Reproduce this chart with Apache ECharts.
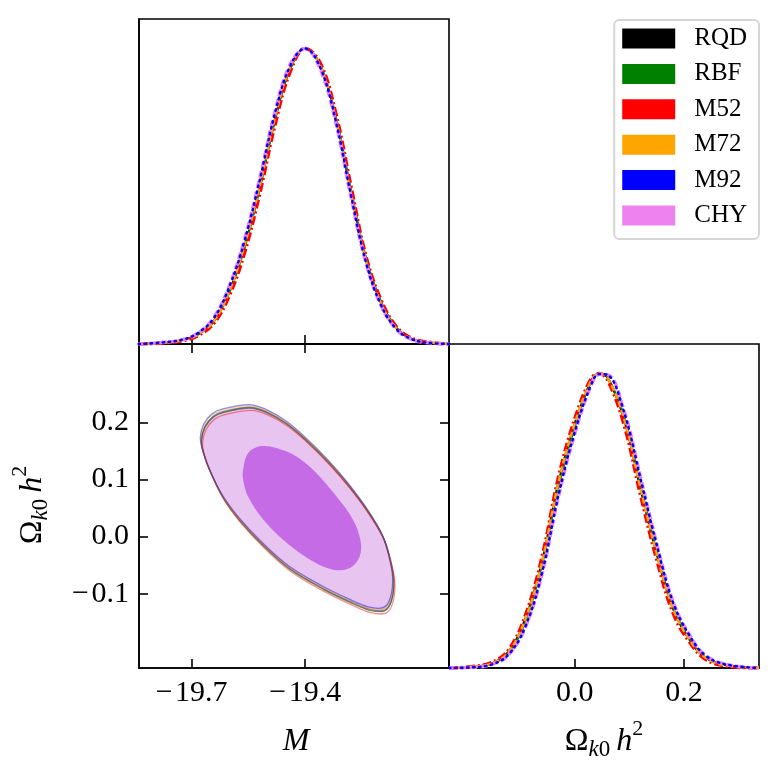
<!DOCTYPE html>
<html>
<head>
<meta charset="utf-8">
<script src="https://cdn.jsdelivr.net/npm/echarts@6/dist/echarts.min.js"></script>
<style>
html, body { margin: 0; padding: 0; background: #fff; }
#main { width: 779px; height: 779px; }
</style>
</head>
<body>
<div id="main"></div>
<script>
// models and colours
var models = ['RQD', 'RBF', 'M52', 'M72', 'M92', 'CHY'];
var colors = ['#000000', '#008000', '#ff0000', '#ffa500', '#0000ff', '#ee82ee'];

// 1D posterior of M (normalised to peak 1)
var mGrid = [-19.84, -19.78, -19.72, -19.68, -19.64, -19.60, -19.56, -19.52, -19.48, -19.44, -19.40,
             -19.36, -19.32, -19.28, -19.24, -19.20, -19.16, -19.12, -19.08, -19.02];
var mRQD = [0, 0.004, 0.014, 0.035, 0.080, 0.180, 0.330, 0.530, 0.760, 0.930, 1.0, 0.940, 0.770, 0.520, 0.290, 0.140, 0.055, 0.018, 0.006, 0];
var mRBF = [0, 0.004, 0.014, 0.034, 0.078, 0.175, 0.325, 0.525, 0.755, 0.930, 1.0, 0.945, 0.775, 0.530, 0.295, 0.145, 0.057, 0.019, 0.006, 0];
var mM52 = [0, 0.003, 0.012, 0.031, 0.072, 0.165, 0.310, 0.510, 0.740, 0.920, 1.0, 0.950, 0.785, 0.540, 0.300, 0.150, 0.060, 0.020, 0.007, 0];
var mM72 = [0, 0.004, 0.014, 0.035, 0.080, 0.180, 0.335, 0.535, 0.765, 0.935, 1.0, 0.940, 0.765, 0.515, 0.285, 0.138, 0.054, 0.018, 0.006, 0];
var mM92 = [0, 0.005, 0.016, 0.040, 0.090, 0.195, 0.350, 0.555, 0.780, 0.940, 1.0, 0.935, 0.760, 0.510, 0.280, 0.133, 0.052, 0.017, 0.005, 0];
var mCHY = [0, 0.005, 0.016, 0.040, 0.092, 0.198, 0.355, 0.560, 0.785, 0.945, 1.0, 0.930, 0.755, 0.505, 0.278, 0.132, 0.051, 0.016, 0.005, 0];

// 1D posterior of Omega_k0 h^2
var wGrid = [-0.23, -0.19, -0.15, -0.12, -0.09, -0.06, -0.03, 0.0, 0.03, 0.045, 0.06,
             0.09, 0.12, 0.15, 0.18, 0.21, 0.24, 0.28, 0.337];
var wRQD = [0, 0.003, 0.017, 0.058, 0.170, 0.360, 0.630, 0.830, 0.975, 1.0, 0.985, 0.845, 0.610, 0.385, 0.200, 0.095, 0.034, 0.008, 0];
var wRBF = [0, 0.002, 0.015, 0.054, 0.160, 0.348, 0.612, 0.818, 0.972, 1.0, 0.988, 0.855, 0.622, 0.395, 0.206, 0.098, 0.035, 0.009, 0];
var wM52 = [0, 0.004, 0.020, 0.064, 0.180, 0.375, 0.645, 0.845, 0.982, 1.0, 0.978, 0.828, 0.590, 0.368, 0.186, 0.088, 0.029, 0.006, 0];
var wM72 = [0, 0.003, 0.017, 0.057, 0.168, 0.358, 0.628, 0.830, 0.975, 1.0, 0.985, 0.848, 0.612, 0.387, 0.201, 0.096, 0.034, 0.008, 0];
var wM92 = [0, 0.002, 0.013, 0.048, 0.142, 0.322, 0.585, 0.800, 0.962, 0.998, 0.995, 0.870, 0.645, 0.418, 0.222, 0.110, 0.041, 0.011, 0];
var wCHY = [0, 0.002, 0.013, 0.047, 0.140, 0.318, 0.580, 0.795, 0.960, 0.997, 0.996, 0.874, 0.650, 0.422, 0.225, 0.112, 0.042, 0.011, 0];

var mDens = [mRQD, mRBF, mM52, mM72, mM92, mCHY];
var wDens = [wRQD, wRBF, wM52, wM72, wM92, wCHY];

// 2D contours (M, Omega_k0 h^2)
var outerM = [-19.674, -19.665, -19.643, -19.617, -19.546, -19.502, -19.449, -19.397, -19.335, -19.282, -19.230, -19.194,
              -19.177, -19.166, -19.172, -19.190, -19.230, -19.282, -19.353, -19.441, -19.511, -19.573, -19.617, -19.652, -19.669];
var outerW = [0.170, 0.193, 0.211, 0.219, 0.227, 0.219, 0.199, 0.170, 0.129, 0.088, 0.041, 0.000,
              -0.035, -0.075, -0.111, -0.128, -0.127, -0.113, -0.090, -0.055, -0.014, 0.030, 0.070, 0.117, 0.149];
var innerM = [-19.564, -19.551, -19.520, -19.476, -19.423, -19.370, -19.317, -19.274, -19.254, -19.256, -19.282,
              -19.326, -19.388, -19.449, -19.511, -19.551, -19.564];
var innerW = [0.117, 0.146, 0.158, 0.155, 0.140, 0.111, 0.070, 0.030, -0.006, -0.035, -0.055,
              -0.058, -0.040, -0.011, 0.030, 0.070, 0.100];
// small offsets of each model's outer contour against CHY
var shiftM = [0.000, 0.000, 0.003, -0.002, -0.003, 0];
var shiftW = [-0.002, -0.001, -0.006, 0.002, 0.004, 0];

var mTicks = [-19.7, -19.4];
var wTicks = [-0.1, 0.0, 0.1, 0.2];
var wTicksDiag = [0.0, 0.2];
var mRange = [-19.839, -19.02];
var wRange = [-0.23, 0.337];

var FONT = '"Liberation Serif", "DejaVu Serif", serif';
var lineStyles = [
    { width: 2, type: 'solid' },
    { width: 2, type: 'solid' },
    { width: 3.5, type: [9, 3, 2, 3] },
    { width: 2.5, type: [6, 3] },
    { width: 2.5, type: [1.5, 4.5], cap: 'round' },
    { width: 3.5, type: [7, 3.5] }
];
var zOrder = [3, 4, 5, 6, 8, 7];

function fmt(v) {
    return (v < -1e-9 ? '\u2212\u200a' : '') + Math.abs(v).toFixed(1);
}

function axis(grid, range, pos, ticks, labels) {
    return {
        type: 'value', gridIndex: grid, position: pos, min: range[0], max: range[1],
        axisLine: { show: true, onZero: false, lineStyle: { color: '#000', width: 1.6 } },
        splitLine: { show: false },
        axisTick: ticks ? { show: true, inside: true, length: 9, lineStyle: { color: '#000', width: 1.6 }, customValues: ticks } : { show: false },
        axisLabel: labels ? {
            show: true, customValues: ticks, formatter: fmt, color: '#000',
            fontFamily: FONT, fontSize: 30,
            margin: 10
        } : { show: false }
    };
}

function pairs(xs, ys) {
    return xs.map(function (x, i) { return [x, ys[i]]; });
}

var series = [];
models.forEach(function (name, i) {
    var ls = { color: colors[i], width: lineStyles[i].width, type: lineStyles[i].type, cap: lineStyles[i].cap || 'butt' };
    series.push({
        name: name, type: 'line', xAxisIndex: 0, yAxisIndex: 0, data: pairs(mGrid, mDens[i]),
        smooth: 0.4, symbol: 'none', lineStyle: ls, itemStyle: { color: colors[i] }, z: zOrder[i], silent: true
    });
    series.push({
        name: name, type: 'line', xAxisIndex: 3, yAxisIndex: 3, data: pairs(wGrid, wDens[i]),
        smooth: 0.4, symbol: 'none', lineStyle: ls, itemStyle: { color: colors[i] }, z: zOrder[i], silent: true
    });
});

function polygon(ms, ws, dm, dw, style) {
    return function (params, api) {
        var pts = ms.map(function (m, k) { return api.coord([m + dm, ws[k] + dw]); });
        return { type: 'polygon', shape: { points: pts, smooth: 0.35 }, style: style };
    };
}

// CHY filled outer contour
series.push({
    name: 'CHY', type: 'custom', xAxisIndex: 1, yAxisIndex: 1, data: [[-19.4, 0.05]], z: 1, silent: true,
    renderItem: polygon(outerM, outerW, 0, 0, { fill: '#e8c5f1', stroke: 'rgba(200,120,230,0.8)', lineWidth: 1 })
});
// outlines of the other models
models.forEach(function (name, i) {
    if (name === 'CHY') return;
    series.push({
        name: name, type: 'custom', xAxisIndex: 1, yAxisIndex: 1, data: [[-19.4, 0.05]], z: 2 + i * 0.1, silent: true,
        renderItem: polygon(outerM, outerW, shiftM[i], shiftW[i], { fill: 'none', stroke: colors[i], opacity: 0.45, lineWidth: 1.3 })
    });
});
// CHY filled inner contour
series.push({
    name: 'CHY', type: 'custom', xAxisIndex: 1, yAxisIndex: 1, data: [[-19.4, 0.05]], z: 3, silent: true,
    renderItem: polygon(innerM, innerW, 0, 0, { fill: '#c46be5' })
});

// math axis titles
var ctx = document.createElement('canvas').getContext('2d');
function mathLabel(pieces, cx, cy, rot) {
    var total = 0;
    pieces.forEach(function (p) {
        ctx.font = (p.italic ? 'italic ' : '') + p.size + 'px ' + FONT;
        p.w = p.gap ? p.gap : ctx.measureText(p.t).width;
        total += p.w;
    });
    var x = -total / 2, children = [];
    pieces.forEach(function (p) {
        if (!p.gap) {
            children.push({
                type: 'text', x: x, y: p.dy || 0,
                style: { text: p.t, fontFamily: FONT, fontSize: p.size, fontStyle: p.italic ? 'italic' : 'normal',
                         fill: '#000', align: 'left', verticalAlign: 'middle' }
            });
        }
        x += p.w;
    });
    return { type: 'group', x: cx, y: cy, rotation: rot || 0, children: children };
}
var omegaLabel = [
    { t: '\u03a9', size: 32 },
    { t: 'k', size: 23, italic: true, dy: 8 },
    { t: '0', size: 23, dy: 8 },
    { gap: 6 },
    { t: 'h', size: 32, italic: true },
    { t: '2', size: 22, dy: -13 }
];

var myChart = echarts.init(document.getElementById('main'), null, { renderer: 'canvas' });
myChart.setOption({
    backgroundColor: '#fff',
    animation: false,
    grid: [
        { left: 139, top: 19, width: 310, height: 325, show: true, borderColor: '#000', borderWidth: 1.6, outerBoundsMode: 'none' },
        { left: 139, top: 344, width: 310, height: 324, show: true, borderColor: '#000', borderWidth: 1.6, outerBoundsMode: 'none' },
        { left: 449, top: 344, width: 310, height: 324, show: true, borderColor: '#000', borderWidth: 1.6, outerBoundsMode: 'none' }
    ],
    xAxis: [
        axis(0, mRange, 'bottom', mTicks, false),
        axis(1, mRange, 'bottom', mTicks, true),
        axis(1, mRange, 'top', mTicks, false),
        axis(2, wRange, 'bottom', wTicksDiag, true)
    ],
    yAxis: [
        axis(0, [0, 1.1], 'left', null, false),
        axis(1, wRange, 'left', wTicks, true),
        axis(1, wRange, 'right', wTicks, false),
        axis(2, [0, 1.1], 'left', null, false)
    ],
    legend: {
        data: models.map(function (n, i) {
            return { name: n, icon: 'rect', itemStyle: { color: colors[i], borderWidth: 0 } };
        }),
        orient: 'vertical', right: 20, top: 20,
        itemWidth: 53, itemHeight: 20, itemGap: 10.4,
        padding: [6, 12, 11, 8],
        borderColor: '#d6d6d6', borderWidth: 2, borderRadius: 5,
        backgroundColor: '#fff',
        selectedMode: false,
        textStyle: { fontFamily: FONT, fontSize: 25, color: '#000', lineHeight: 20, padding: [0, 0, 0, 14] }
    },
    graphic: [
        mathLabel([{ t: 'M', size: 32, italic: true }], 296, 742, 0),
        mathLabel(omegaLabel, 604, 742, 0),
        mathLabel(omegaLabel, 33, 505, Math.PI / 2)
    ],
    series: series
});
</script>
</body>
</html>
